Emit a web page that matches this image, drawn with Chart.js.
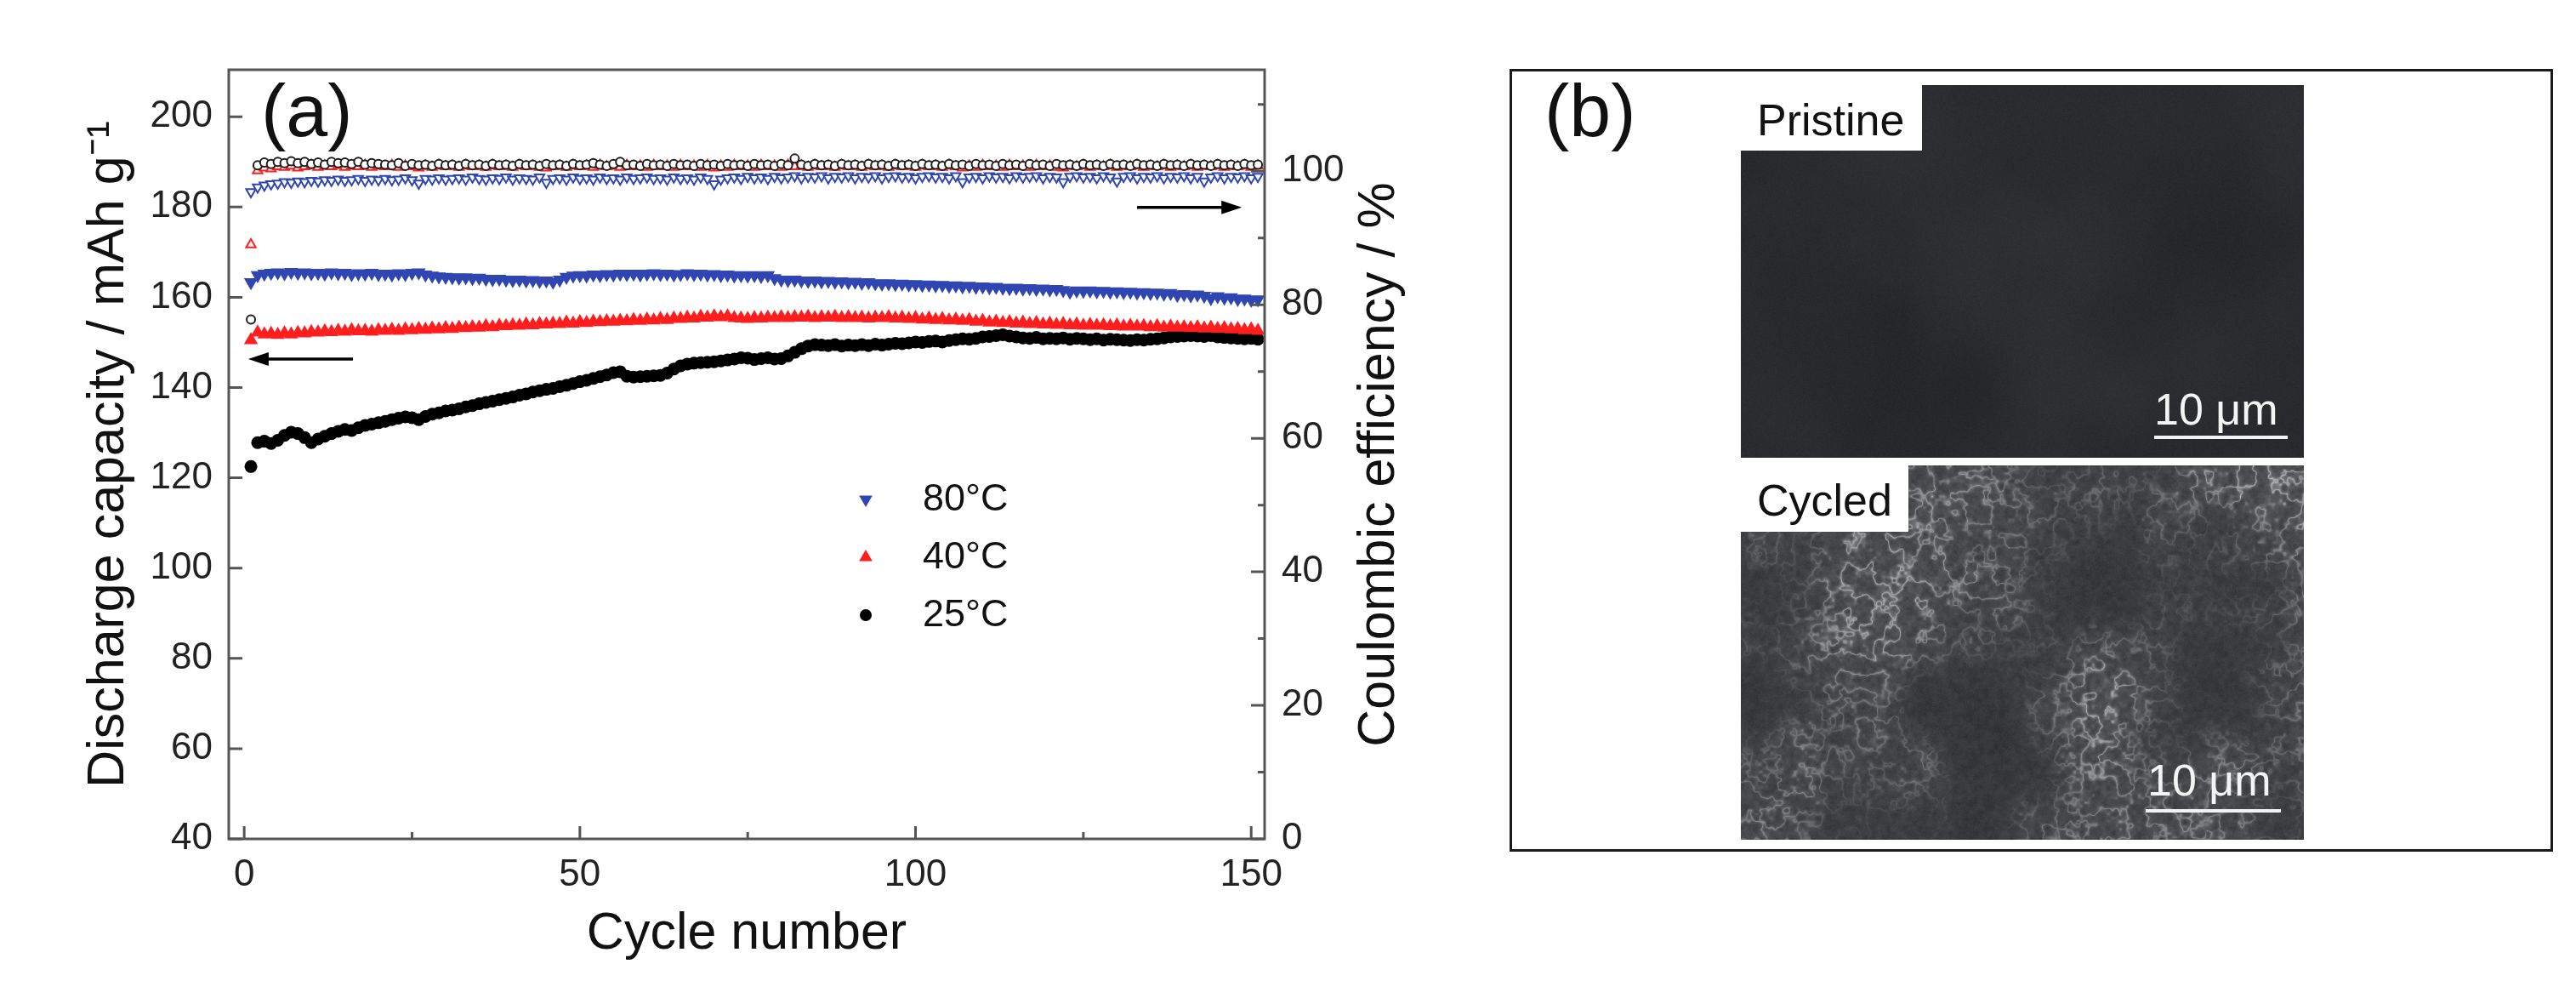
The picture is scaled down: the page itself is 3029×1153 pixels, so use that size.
<!DOCTYPE html>
<html>
<head>
<meta charset="utf-8">
<title>Discharge capacity and Coulombic efficiency vs cycle number</title>
<script src="https://cdn.jsdelivr.net/npm/chart.js@4.4.1/dist/chart.umd.min.js"></script>
<style>
  html, body { margin: 0; padding: 0; background: #fff; }
  #page { position: relative; width: 3029px; height: 1153px; overflow: hidden; font-family: "Liberation Sans", Arial, sans-serif; }
  #chartA { position: absolute; left: 0; top: 0; }
  #panelB { position: absolute; left: 1775px; top: 81px; width: 1221px; height: 914px; border: 3px solid #1a1a1a; background: #fff; }
  .sem { position: absolute; }
  .txt { position: absolute; white-space: nowrap; line-height: 1; color: #111; }
  .tag { position: absolute; background: #fff; }
  .bar { position: absolute; height: 4px; background: #f2f2f2; }
</style>
</head>
<body>
<div id="page">
  <canvas id="chartA" width="1750" height="1153"></canvas>
  <div id="panelB"></div>
</div>
<script>
// cycle index (x categories)
var cycles = Array.from({length: 151}, (_, i) => i + 1);

// discharge capacity, mAh g-1 (left axis)
var capacity80 = [163.3,164.9,165.2,165.4,165.5,165.3,165.6,165.4,165.5,165.3,
  165.4,165.2,165.5,165.3,165.4,165.1,165.3,165.2,165.4,165.1,
  165.2,165.0,165.3,165.1,165.4,165.5,165.0,164.8,164.6,164.5,
  164.4,164.3,164.4,164.2,164.3,164.1,164.0,164.1,163.9,163.8,
  163.9,163.7,163.8,163.6,163.7,163.4,163.9,164.5,164.8,164.9,
  164.8,165.0,164.9,165.1,165.0,165.2,165.1,165.2,165.0,165.2,
  165.3,165.1,165.2,165.0,165.1,165.3,165.1,165.2,165.0,165.1,
  164.9,165.0,164.8,164.9,164.8,164.9,164.7,164.9,164.2,163.9,
  163.8,163.9,163.7,163.6,163.7,163.5,163.6,163.4,163.5,163.3,
  163.4,163.2,163.3,163.1,163.0,163.1,162.9,163.0,162.8,162.9,
  162.7,162.8,162.6,162.7,162.5,162.6,162.4,162.5,162.3,162.4,
  162.2,162.3,162.1,162.0,162.1,161.9,162.0,161.8,161.9,161.7,
  161.8,161.6,161.2,161.5,161.4,161.5,161.3,161.4,161.2,161.3,
  161.1,161.2,161.0,161.1,160.9,161.0,160.8,160.9,160.5,160.7,
  160.4,160.6,160.3,159.8,160.2,159.9,160.0,159.6,159.7,159.4,
  159.5];

var capacity40 = [150.5,152.2,151.8,151.9,151.7,152.0,151.8,152.1,152.0,152.3,
  152.2,152.5,152.3,152.6,152.4,152.7,152.5,152.6,152.4,152.7,
  152.6,152.8,152.6,152.9,152.7,153.0,152.8,153.1,152.9,153.2,
  153.0,153.3,153.2,153.4,153.3,153.6,153.4,153.7,153.6,153.8,
  153.7,154.0,153.8,154.1,154.0,154.2,154.1,154.4,154.2,154.5,
  154.3,154.6,154.5,154.7,154.6,154.8,154.7,155.0,154.8,155.1,
  154.9,155.2,155.0,155.3,155.2,155.5,155.3,155.7,155.5,155.8,
  155.6,155.8,155.4,155.3,155.2,155.4,155.3,155.5,155.4,155.6,
  155.4,155.6,155.5,155.7,155.4,155.6,155.5,155.7,155.4,155.6,
  155.4,155.5,155.3,155.5,155.4,155.6,155.3,155.5,155.2,155.4,
  155.1,155.3,155.0,155.2,154.9,155.1,154.8,155.0,154.6,154.8,
  154.4,154.6,154.3,154.5,154.2,154.4,154.1,154.3,154.0,154.2,
  153.9,154.1,153.8,154.0,153.7,153.9,153.7,153.8,153.6,153.8,
  153.5,153.7,153.5,153.6,153.4,153.6,153.3,153.5,153.3,153.4,
  153.2,153.4,153.1,153.3,153.0,153.2,152.9,153.0,152.7,152.9,
  152.6];

var capacity25 = [122.5,127.8,128.1,127.6,128.3,129.4,130.1,129.8,128.9,127.8,
  128.6,129.2,129.8,130.3,130.7,130.5,131.1,131.6,131.9,132.2,
  132.5,132.9,133.2,133.5,133.3,132.9,133.6,134.1,134.4,134.8,
  135.0,135.3,135.7,136.0,136.4,136.7,137.0,137.3,137.6,137.9,
  138.3,138.6,139.0,139.3,139.6,139.8,140.2,140.5,140.9,141.3,
  141.6,142.0,142.4,142.8,143.3,143.5,142.5,142.3,142.4,142.5,
  142.6,142.7,143.2,144.1,144.8,145.2,145.4,145.5,145.6,145.7,
  145.9,146.1,146.3,146.6,146.5,146.2,146.4,146.6,146.3,146.4,
  147.0,147.8,148.6,149.2,149.5,149.4,149.3,149.5,149.2,149.4,
  149.3,149.5,149.3,149.6,149.4,149.6,149.8,149.7,149.9,150.1,
  150.0,150.2,150.3,150.1,150.4,150.6,150.8,150.7,150.9,151.2,
  151.3,151.5,151.7,151.4,151.2,151.0,150.9,151.1,150.8,150.9,
  150.8,151.0,150.7,150.9,150.8,150.6,150.8,150.5,150.7,150.6,
  150.5,150.4,150.6,150.5,150.7,150.8,151.0,151.2,151.3,151.4,
  151.5,151.4,151.3,151.5,151.2,151.1,151.0,150.9,150.8,150.9,
  150.7];

// coulombic efficiency, % (right axis)
var efficiency80 = [96.9,97.6,97.9,98.1,98.2,98.4,98.3,98.5,98.4,98.6,
  98.5,98.7,98.6,98.8,98.6,98.7,98.9,98.6,98.8,98.7,
  98.9,98.7,98.8,99.0,98.7,98.2,98.9,98.8,99.0,98.8,
  98.9,99.0,98.8,99.1,98.9,98.8,99.0,98.9,99.1,98.8,
  99.0,98.9,98.8,99.1,98.3,98.9,99.0,98.8,99.1,98.9,
  99.0,98.8,99.1,98.9,99.0,98.8,99.1,98.9,99.0,99.1,
  98.9,99.0,98.8,99.1,98.9,99.0,98.8,99.1,98.9,98.1,
  98.8,99.0,99.1,98.9,99.2,99.0,99.1,98.9,99.2,99.0,
  99.1,99.3,99.0,99.2,99.1,99.3,99.0,99.2,99.1,99.3,
  99.0,99.2,99.1,99.3,99.0,99.2,99.3,99.1,99.2,99.0,
  99.2,99.3,99.1,99.2,99.0,99.3,98.4,99.1,99.2,99.0,
  99.3,99.1,99.2,99.0,99.3,99.1,99.2,99.3,99.0,99.2,
  99.1,98.4,99.2,99.3,99.1,99.2,99.0,99.3,99.1,98.5,
  99.2,99.3,99.0,99.2,99.1,99.3,99.0,99.2,99.1,99.3,
  99.0,99.2,98.5,99.1,99.3,99.0,99.2,99.1,99.3,99.0,
  99.2];

var efficiency40 = [89.0,100.1,100.5,100.4,100.7,100.6,100.8,100.5,100.7,100.9,
  100.6,100.8,100.7,100.9,100.6,100.8,100.7,100.9,100.6,100.8,
  100.7,100.9,100.6,100.8,100.7,100.5,100.8,100.6,100.9,100.7,
  100.8,100.6,100.9,100.7,100.8,100.6,100.9,100.7,100.8,100.6,
  100.9,100.7,100.8,100.6,100.5,100.7,100.8,100.6,100.9,100.7,
  100.8,100.6,100.9,100.7,100.8,100.6,100.9,100.7,100.8,100.6,
  100.9,100.7,100.8,100.6,100.9,100.7,100.8,100.6,100.9,100.5,
  100.8,100.6,100.9,100.7,100.8,100.6,100.9,100.7,100.8,100.6,
  100.9,100.7,100.8,100.6,100.9,100.7,100.8,100.6,100.9,100.7,
  100.8,100.6,100.9,100.7,100.8,100.6,100.9,100.7,100.8,100.6,
  100.9,100.7,100.8,100.6,100.9,100.7,100.5,100.8,100.6,100.9,
  100.7,100.8,100.6,100.9,100.7,100.8,100.6,100.9,100.7,100.8,
  100.6,100.5,100.8,100.7,100.9,100.6,100.8,100.7,100.9,100.6,
  100.8,100.7,100.9,100.6,100.8,100.7,100.9,100.6,100.8,100.7,
  100.9,100.6,100.8,100.7,100.9,100.6,100.8,100.7,100.9,100.6,
  100.8];

var efficiency25 = [77.8,100.9,101.3,101.1,101.4,101.2,101.5,101.2,101.4,101.1,
  101.3,101.0,101.4,101.2,101.3,101.1,101.4,101.0,101.2,101.1,
  101.0,100.9,101.2,100.8,101.1,100.9,101.0,100.8,101.1,100.9,
  101.0,100.8,101.1,100.9,101.0,100.8,101.1,100.9,101.0,100.8,
  101.1,100.9,101.0,100.8,101.1,100.9,101.0,100.8,101.1,100.9,
  101.0,101.2,101.0,100.8,101.1,101.4,100.9,101.0,100.8,101.1,
  100.9,101.0,100.8,101.1,100.9,101.0,100.8,101.1,100.9,101.0,
  100.8,101.1,100.9,101.0,100.8,101.1,100.9,101.0,100.8,101.1,
  100.9,101.9,101.0,100.8,101.1,100.9,101.0,100.8,101.1,100.9,
  101.0,100.8,101.1,100.9,101.0,100.8,101.1,100.9,101.0,100.8,
  101.1,100.9,101.0,100.8,101.1,100.9,101.0,100.8,101.1,100.9,
  101.0,100.8,101.1,100.9,101.0,100.8,101.1,100.9,101.0,100.8,
  101.1,100.9,101.0,100.8,101.1,100.9,101.0,100.8,101.1,100.9,
  101.0,100.8,101.1,100.9,101.0,100.8,101.1,100.9,101.0,100.8,
  101.1,100.9,101.0,100.8,101.1,100.9,101.0,100.8,101.1,100.9,
  101.0];

var seriesLabels = ['80°C', '40°C', '25°C'];
var xTickLabels = [0, 50, 100, 150];
var yTickLabels = [40, 60, 80, 100, 120, 140, 160, 180, 200];
var y1TickLabels = [0, 20, 40, 60, 80, 100];

// arrows pointing to the axis each group belongs to (in data units)
var leftArrow = {from: 16.2, to: 0.6, value: 146.3};
var rightArrow = {from: 133, to: 148.6, value: 94.6};

var BLUE = '#2f46b2';
var RED = '#ff1e1e';
var BLACK = '#000000';
var FONT = '"Liberation Sans", Arial, sans-serif';

function toPoints(values) {
    return values.map((v, i) => ({x: cycles[i], y: v}));
}

var datasets = [
    {label: seriesLabels[2], data: toPoints(capacity25), yAxisID: 'y', pointStyle: 'circle', pointRadius: 7.5,
     backgroundColor: BLACK, borderColor: BLACK, borderWidth: 0, order: 3},
    {label: seriesLabels[1], data: toPoints(capacity40), yAxisID: 'y', pointStyle: 'triangle', pointRadius: 9.5,
     backgroundColor: RED, borderColor: RED, borderWidth: 0, order: 2},
    {label: seriesLabels[0], data: toPoints(capacity80), yAxisID: 'y', pointStyle: 'triangle', pointRotation: 180, pointRadius: 9.5,
     backgroundColor: BLUE, borderColor: BLUE, borderWidth: 0, order: 1},
    {label: seriesLabels[0] + ' CE', data: toPoints(efficiency80), yAxisID: 'y1', pointStyle: 'triangle', pointRotation: 180, pointRadius: 6.5,
     backgroundColor: '#ffffff', borderColor: BLUE, borderWidth: 2, order: 6},
    {label: seriesLabels[1] + ' CE', data: toPoints(efficiency40), yAxisID: 'y1', pointStyle: 'triangle', pointRadius: 6.5,
     backgroundColor: '#ffffff', borderColor: RED, borderWidth: 2, order: 5},
    {label: seriesLabels[2] + ' CE', data: toPoints(efficiency25), yAxisID: 'y1', pointStyle: 'circle', pointRadius: 5,
     backgroundColor: '#ffffff', borderColor: '#1e1e1e', borderWidth: 2, order: 4}
];

function tickFont(size) {
    return {family: FONT, size: size};
}

// frame, inward tick marks, arrows, panel letter, custom legend, right title
var decorations = {
    id: 'decorations',
    afterDatasetsDraw(chart) {
        var ctx = chart.ctx;
        var ca = chart.chartArea;
        var sx = chart.scales.x, sy = chart.scales.y, sy1 = chart.scales.y1;
        ctx.save();

        // ticks
        ctx.strokeStyle = '#555';
        ctx.lineWidth = 3;
        ctx.beginPath();
        sx.ticks.forEach(t => {
            var px = sx.getPixelForValue(t.value);
            var len = xTickLabels.includes(Math.round(t.value)) ? 15 : 8;
            ctx.moveTo(px, ca.bottom);
            ctx.lineTo(px, ca.bottom - len);
        });
        sy.ticks.forEach(t => {
            var py = sy.getPixelForValue(t.value);
            var len = yTickLabels.includes(Math.round(t.value)) ? 16 : 8;
            ctx.moveTo(ca.left, py);
            ctx.lineTo(ca.left + len, py);
        });
        sy1.ticks.forEach(t => {
            var py = sy1.getPixelForValue(t.value);
            var len = y1TickLabels.includes(Math.round(t.value)) ? 16 : 8;
            ctx.moveTo(ca.right, py);
            ctx.lineTo(ca.right - len, py);
        });
        ctx.stroke();

        // frame
        ctx.strokeRect(ca.left, ca.top, ca.right - ca.left, ca.bottom - ca.top);

        // arrows
        function arrow(a, scale) {
            var x0 = sx.getPixelForValue(a.from);
            var x1 = sx.getPixelForValue(a.to);
            var y = scale.getPixelForValue(a.value);
            var dir = x1 > x0 ? 1 : -1;
            ctx.strokeStyle = '#000';
            ctx.fillStyle = '#000';
            ctx.lineWidth = 3.5;
            ctx.beginPath();
            ctx.moveTo(x0, y);
            ctx.lineTo(x1 - dir * 18, y);
            ctx.stroke();
            ctx.beginPath();
            ctx.moveTo(x1, y);
            ctx.lineTo(x1 - dir * 24, y - 8);
            ctx.lineTo(x1 - dir * 24, y + 8);
            ctx.closePath();
            ctx.fill();
        }
        arrow(leftArrow, sy);
        arrow(rightArrow, sy1);

        // panel letter
        ctx.fillStyle = '#111';
        ctx.font = '88px ' + FONT;
        ctx.textAlign = 'left';
        ctx.textBaseline = 'alphabetic';
        ctx.fillText('(a)', ca.left + 38, ca.top + 78);

        // legend (capacity series)
        var legendItems = [datasets[2], datasets[1], datasets[0]];
        var lx = ca.left + 749, ly = ca.top + 505, rowGap = 68;
        legendItems.forEach((d, i) => {
            var cy = ly + i * rowGap;
            ctx.fillStyle = d.backgroundColor;
            ctx.beginPath();
            if (d.pointStyle === 'circle') {
                ctx.arc(lx, cy, 7, 0, Math.PI * 2);
            } else {
                var r = 9;
                var s = d.pointRotation === 180 ? -1 : 1;
                ctx.moveTo(lx, cy - s * r);
                ctx.lineTo(lx + r * 0.87, cy + s * r * 0.5);
                ctx.lineTo(lx - r * 0.87, cy + s * r * 0.5);
                ctx.closePath();
            }
            ctx.fill();
            ctx.fillStyle = '#111';
            ctx.font = '45px ' + FONT;
            ctx.textBaseline = 'middle';
            ctx.fillText(d.label, lx + 67, cy + 1);
        });

        // right axis title, reading bottom to top
        ctx.save();
        ctx.translate(sy1.right - 128, (ca.top + ca.bottom) / 2 + 12);
        ctx.rotate(-Math.PI / 2);
        ctx.font = '61px ' + FONT;
        ctx.fillStyle = '#111';
        ctx.textAlign = 'center';
        ctx.textBaseline = 'middle';
        ctx.fillText('Coulombic efficiency / %', 0, 0);
        ctx.restore();

        ctx.restore();
    }
};

var ctxA = document.getElementById('chartA').getContext('2d');
var capacityChart = new Chart(ctxA, {
    type: 'scatter',
    data: {datasets: datasets},
    options: {
        responsive: false,
        devicePixelRatio: 1,
        animation: false,
        events: [],
        layout: {padding: {top: 82, left: 0, right: 0, bottom: 0}},
        plugins: {legend: {display: false}, tooltip: {enabled: false}},
        scales: {
            x: {
                type: 'linear',
                position: 'bottom',
                min: -2.3,
                max: 152,
                afterFit: s => { s.height = 167; },
                grid: {display: false, drawTicks: false},
                border: {display: false},
                ticks: {
                    stepSize: 25,
                    includeBounds: false,
                    autoSkip: false,
                    maxRotation: 0,
                    padding: 16,
                    color: '#222',
                    font: tickFont(44),
                    callback: v => xTickLabels.includes(Math.round(v)) ? String(Math.round(v)) : ''
                },
                title: {
                    display: true,
                    text: 'Cycle number',
                    color: '#111',
                    font: {family: FONT, size: 61},
                    padding: {top: 0, bottom: 18}
                }
            },
            y: {
                type: 'linear',
                position: 'left',
                min: 40,
                max: 210.4,
                afterFit: s => { s.width = 269; },
                grid: {display: false, drawTicks: false},
                border: {display: false},
                ticks: {
                    stepSize: 10,
                    includeBounds: false,
                    padding: 19,
                    color: '#222',
                    font: tickFont(44),
                    callback: v => yTickLabels.includes(Math.round(v)) ? String(Math.round(v)) : ''
                },
                title: {
                    display: true,
                    text: 'Discharge capacity / mAh g⁻¹',
                    color: '#111',
                    font: {family: FONT, size: 61},
                    padding: {top: 92, bottom: 0}
                }
            },
            y1: {
                type: 'linear',
                position: 'right',
                min: 0,
                max: 115.2,
                afterFit: s => { s.width = 263; },
                grid: {display: false, drawTicks: false},
                border: {display: false},
                ticks: {
                    stepSize: 10,
                    includeBounds: false,
                    padding: 20,
                    color: '#222',
                    font: tickFont(44),
                    callback: v => y1TickLabels.includes(Math.round(v)) ? String(Math.round(v)) : ''
                }
            }
        }
    },
    plugins: [decorations]
});

// ---------- panel (b): micrographs ----------
var panelLeft = 1778, panelTop = 84; // inner corner of the bordered box
var semImages = [
    {name: 'Pristine', x: 2047, y: 100, w: 662, h: 438, tagW: 213, tagH: 77, textBase: 159, bar: {x: 2533, w: 157, y: 512}, barText: {x: 2533, base: 499}},
    {name: 'Cycled', x: 2047, y: 547, w: 662, h: 440, tagW: 197, tagH: 78, textBase: 606, bar: {x: 2523, w: 159, y: 951}, barText: {x: 2525, base: 935}}
];

function hash2(x, y, seed) {
    var h = Math.imul(x | 0, 374761393) ^ Math.imul(y | 0, 668265263) ^ Math.imul(seed | 0, 1442695041);
    h = Math.imul(h ^ (h >>> 13), 1274126177);
    h ^= h >>> 16;
    return (h >>> 0) / 4294967296;
}
function valueNoise(x, y, s, seed) {
    var gx = x / s, gy = y / s;
    var xi = Math.floor(gx), yi = Math.floor(gy);
    var fx = gx - xi, fy = gy - yi;
    fx = fx * fx * (3 - 2 * fx);
    fy = fy * fy * (3 - 2 * fy);
    var a = hash2(xi, yi, seed), b = hash2(xi + 1, yi, seed);
    var c = hash2(xi, yi + 1, seed), d = hash2(xi + 1, yi + 1, seed);
    return a + (b - a) * fx + (c - a) * fy + (a - b - c + d) * fx * fy;
}
function fbm(x, y, scales, seed) {
    var sum = 0, w = 0, amp = 1;
    scales.forEach(s => { sum += amp * valueNoise(x, y, s, seed + s); w += amp; amp *= 0.55; });
    return sum / w;
}

function paintSem(canvas, cycled) {
    var c = canvas.getContext('2d');
    var img = c.createImageData(canvas.width, canvas.height);
    var p = img.data;
    for (var y = 0; y < canvas.height; y++) {
        for (var x = 0; x < canvas.width; x++) {
            var v;
            if (!cycled) {
                var n0 = fbm(x, y, [180, 90, 45], 11);
                v = 42 + 16 * (n0 - 0.5) + 6 * (hash2(x, y, 3) - 0.5);
            } else {
                var n = fbm(x, y, [140, 70, 35], 21);
                var r = fbm(x, y, [18, 9, 4.5], 37);
                var ridge = 1 - Math.abs(r - 0.5) * 2;
                ridge = Math.pow(ridge, 10);
                var mask = Math.min(1, Math.max(0, (n - 0.3) * 2.2));
                var grain = fbm(x, y, [6, 3], 53);
                v = 66 + 34 * (n - 0.5) + 30 * (grain - 0.5) * (0.5 + 0.5 * mask) + 95 * ridge * mask + 8 * (hash2(x, y, 5) - 0.5);
            }
            v = Math.max(0, Math.min(255, v));
            var k = (y * canvas.width + x) * 4;
            p[k] = v - 2; p[k + 1] = v; p[k + 2] = v + 3; p[k + 3] = 255;
        }
    }
    c.putImageData(img, 0, 0);
}

var panel = document.getElementById('panelB');
function addText(text, x, base, size, color) {
    var el = document.createElement('div');
    el.className = 'txt';
    el.textContent = text;
    el.style.fontSize = size + 'px';
    el.style.height = size + 'px';
    el.style.left = (x - panelLeft) + 'px';
    el.style.top = (base - 0.8465 * size - panelTop) + 'px';
    if (color) el.style.color = color;
    panel.appendChild(el);
}

addText('(b)', 1816, 160, 88);

semImages.forEach((m, i) => {
    var cv = document.createElement('canvas');
    cv.className = 'sem';
    cv.width = m.w;
    cv.height = m.h;
    cv.style.left = (m.x - panelLeft) + 'px';
    cv.style.top = (m.y - panelTop) + 'px';
    panel.appendChild(cv);
    paintSem(cv, i === 1);

    var tag = document.createElement('div');
    tag.className = 'tag';
    tag.style.left = (m.x - panelLeft) + 'px';
    tag.style.top = (m.y - panelTop) + 'px';
    tag.style.width = m.tagW + 'px';
    tag.style.height = m.tagH + 'px';
    panel.appendChild(tag);
    addText(m.name, 2066, m.textBase, 52);

    addText('10 μm', m.barText.x, m.barText.base, 52, '#f4f4f4');
    var bar = document.createElement('div');
    bar.className = 'bar';
    bar.style.left = (m.bar.x - panelLeft) + 'px';
    bar.style.top = (m.bar.y - panelTop) + 'px';
    bar.style.width = m.bar.w + 'px';
    panel.appendChild(bar);
});
</script>
</body>
</html>
